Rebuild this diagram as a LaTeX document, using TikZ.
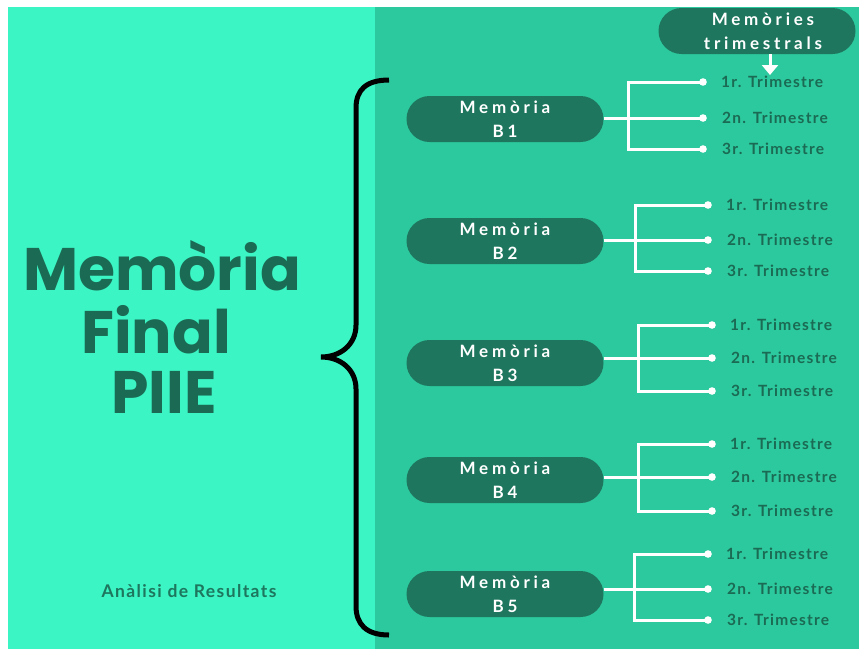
\documentclass[tikz,border=0pt]{standalone}
\usepackage{fontspec}
\setmainfont{Lato}
\newfontfamily\titlefont{Poppins}
\newfontfamily\pillfont[LetterSpace=22]{Lato}
\newfontfamily\labelfont[LetterSpace=8]{Lato}
\usetikzlibrary{shapes.misc}
\usetikzlibrary{arrows.meta}
\definecolor{mintleft}{HTML}{3BF5C4}
\definecolor{mintright}{HTML}{2DC99E}
\definecolor{pinegreen}{HTML}{1D765D}
\definecolor{deepgreen}{HTML}{1B6A53}

\tikzset{
  pill/.style={rounded rectangle, fill=pinegreen, text=white, align=center,
    minimum width=197pt, minimum height=46pt, inner sep=0pt,
    font=\pillfont\bfseries\fontsize{17}{24}\selectfont},
  bigtitle/.style={anchor=base, text=deepgreen, inner sep=0pt,
    font=\titlefont\bfseries\fontsize{60}{60}\selectfont},
  trim/.style={anchor=west, text=deepgreen, inner sep=0pt,
    font=\labelfont\bfseries\fontsize{15.5}{17}\selectfont},
  branch/.style={draw=white, line width=3pt},
  bracestroke/.style={draw=black, line width=5pt}
}

\begin{document}
\begin{tikzpicture}[x=1pt,y=-1pt]
    \useasboundingbox (0,0) rectangle (859,649);

    % Panels
    \fill[white] (0,0) rectangle (859,649);
    \fill[mintleft] (8,7) rectangle (375,649);
    \fill[mintright] (375,7) rectangle (859,649);

    % Title
    \node[bigtitle] (title1) at (162,290) {Memòria};
    \node[bigtitle] (title2) at (156,353) {Final};
    \node[bigtitle] (title3) at (164,413) {PIIE};
    \node[anchor=base, text=pinegreen, font=\labelfont\bfseries\fontsize{17.5}{19}\selectfont]
        (results) at (189,597) {Anàlisi de Resultats};

    % Brace
    \draw[bracestroke] (389,80) .. controls (366,80) and (356,90) .. (356,108)
        -- (356,325) .. controls (356,345) and (340,357) .. (321,357)
        .. controls (340,357) and (356,369) .. (356,389)
        -- (356,606) .. controls (356,624) and (366,635) .. (389,635);

    % Quarterly reports
    \node[pill] (quarter) at (757,31) {\hspace*{12pt}Memòries\\\hspace*{12pt}trimestrals};
    \coordinate (arrowtip) at (770,75);
    \draw[white, line width=3pt, -{Triangle[width=16pt,length=10pt]}]
        (arrowtip |- quarter.south) -- (arrowtip);

    % Reports B1 to B5
    \foreach \i/\py/\ly/\jx/\ex/\ty/\by in {1/119/118/628/703/82/149,
        2/241/240/635/708/205/271, 3/363/358/638/712/325/391,
        4/480/477/638/712/444/511, 5/594/589/634/708/554/620}{
      \node[pill] (b\i) at (505,\py) {Memòria\\B\i};
      \coordinate (j\i) at (\jx,\ly);
      \coordinate (t\i) at (\ex,\ty);
      \coordinate (m\i) at (\ex,\ly);
      \coordinate (u\i) at (\ex,\by);
      \draw[branch] (b\i.east |- j\i) -- (m\i);
      \draw[branch] (t\i) -| (j\i |- u\i) -- (u\i);
      \fill[white] (t\i) circle (3.8pt) (m\i) circle (3.8pt) (u\i) circle (3.8pt);
      \node[trim] (r\i a) at ([xshift=18pt]t\i) {1r. Trimestre};
      \node[trim] (r\i b) at ([xshift=19pt]m\i) {2n. Trimestre};
      \node[trim] (r\i c) at ([xshift=19pt]u\i) {3r. Trimestre};
    }

\end{tikzpicture}
\end{document}
